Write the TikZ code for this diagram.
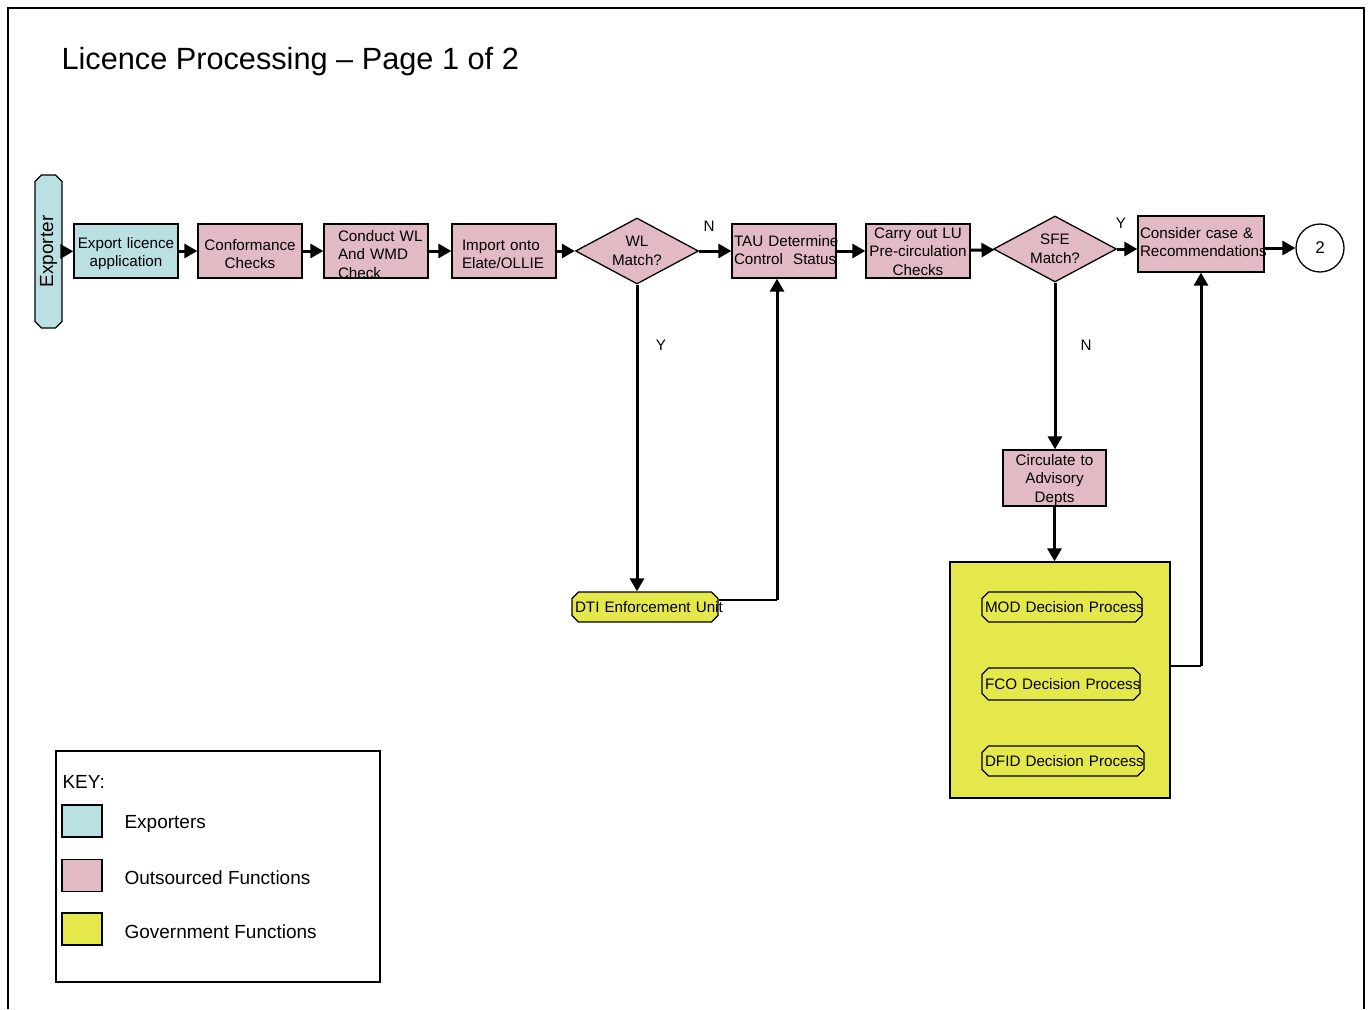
\documentclass[tikz,border=0pt]{standalone}
\usepackage{fontspec}
\setmainfont{Liberation Sans}
\usepackage{tikz}
\usetikzlibrary{shapes,arrows.meta}
\definecolor{exportblue}{RGB}{186,224,227}
\definecolor{outpink}{RGB}{226,186,196}
\definecolor{govyellow}{RGB}{228,232,74}

\begin{document}
\begin{tikzpicture}[x=1pt,y=-1pt,
  every node/.style={font=\fontsize{15.2}{18.5}\selectfont},
  box/.style={draw,line width=1.3pt,rectangle,minimum width=104pt,minimum height=54pt,inner xsep=2pt,inner ysep=0pt,text width=100pt,align=center},
  linepos/.style 2 args={text height=#1,text depth=#2},
  decision/.style={draw,line width=1.3pt,diamond,shape aspect=1.86,fill=outpink,minimum width=123pt,minimum height=66pt,inner sep=0pt,align=center},
  govproc/.style={draw,line width=1.3pt,chamfered rectangle,chamfered rectangle xsep=3pt,fill=govyellow,inner xsep=0pt,inner ysep=0pt,minimum height=30pt,align=left},
  swatch/.style={draw,line width=1.3pt,minimum width=40pt,minimum height=32pt},
  keytext/.style={anchor=west,font=\fontsize{19}{20}\selectfont},
  flow/.style={line width=3pt,-{Triangle[length=13pt,width=14pt]}},
  link/.style={line width=1.2pt}]
\useasboundingbox (0,0) rectangle (1370,1009);
\draw[line width=1.5pt] (8,1009) -- (8,8) -- (1364,8) -- (1364,1009);
\node[anchor=base west,font=\fontsize{30.7}{31}\selectfont] (title) at (58,69) {Licence Processing – Page 1 of 2};

\node[draw,line width=1.3pt,chamfered rectangle,chamfered rectangle xsep=3pt,fill=exportblue,minimum width=27pt,minimum height=153pt,inner sep=0pt] (exporter) at (48.5,251.5) {\rotatebox{90}{\fontsize{19}{19}\selectfont Exporter}};
\node[box,fill=exportblue,linepos={17.3pt}{22.7pt}] (apply) at (126,251) {\mbox{Export licence}\\application};
\node[box,fill=outpink,linepos={19.3pt}{20.7pt}] (conform) at (250,251) {Conformance\\Checks};
\node[box,fill=outpink,align=left,inner xsep=14pt,text width=76pt,linepos={10.3pt}{29.7pt}] (wlcheck) at (376,251) {\mbox{Conduct WL}\\\mbox{And WMD}\\Check};
\node[box,fill=outpink,align=left,inner xsep=10pt,text width=84pt,linepos={19.3pt}{20.7pt}] (import) at (504,251) {\mbox{Import onto}\\Elate/OLLIE};
\node[decision] (wlmatch) at (637,251) {WL\\Match?};
\node[box,fill=outpink,align=left,linepos={15.3pt}{24.7pt}] (tau) at (784,251) {\mbox{TAU Determine}\\\mbox{Control\ \ Status}};
\node[box,fill=outpink,linepos={7.3pt}{32.7pt}] (precirc) at (918,251) {\mbox{Carry out LU}\\\mbox{Pre-circulation}\\Checks};
\node[decision] (sfematch) at (1055,249) {SFE\\Match?};
\node[box,fill=outpink,align=left,minimum width=126pt,minimum height=56pt,text width=122pt,linepos={14.3pt}{25.7pt}] (consider) at (1201,244) {\mbox{Consider case \&}\\\mbox{Recommendations}};
\node[draw,line width=1.3pt,circle,minimum size=48pt,font=\fontsize{17}{17}\selectfont] (cont) at (1320,248) {2};
\node[box,fill=outpink,minimum width=103pt,minimum height=56pt,text width=99pt,linepos={7.3pt}{32.7pt}] (circulate) at (1054.5,478) {\mbox{Circulate to}\\Advisory\\Depts};

\node[govproc,minimum width=146pt,text width=140pt] (dti) at (645,607) {\mbox{DTI Enforcement Unit}};
\node[draw,line width=1.3pt,fill=govyellow,minimum width=220pt,minimum height=236pt] (govbox) at (1060,680) {};
\node[govproc,minimum width=160pt,text width=154pt] (mod) at (1062,607) {\mbox{MOD Decision Process}};
\node[govproc,minimum width=158pt,minimum height=32pt,text width=152pt] (fco) at (1061,684) {\mbox{FCO Decision Process}};
\node[govproc,minimum width=162pt,text width=156pt] (dfid) at (1063,761) {\mbox{DFID Decision Process}};

\coordinate (dtiturn) at (777,600);
\coordinate (govturn) at (1201,666);

\draw[flow] (exporter) -- (apply);
\draw[flow] (apply) -- (conform);
\draw[flow] (conform) -- (wlcheck);
\draw[flow] (wlcheck) -- (import);
\draw[flow] (import) -- (wlmatch);
\draw[flow] (wlmatch) -- (tau);
\node (wln) at (709,226) {N};
\draw[flow] (wlmatch.south) -- (wlmatch.south |- dti.north);
\node (wly) at (661,345) {Y};
\draw[link] (dti.east |- dtiturn) -- (dtiturn);
\draw[flow] (dtiturn) -- (dtiturn |- tau.south);
\draw[flow] (tau) -- (precirc);
\draw[flow] (precirc) -- (sfematch);
\draw[flow] (sfematch.east) -- (sfematch.east -| consider.west);
\node (sfey) at (1121,223) {Y};
\draw[flow] (sfematch.south) -- (sfematch.south |- circulate.north);
\node (sfen) at (1086,345) {N};
\draw[flow] (circulate) -- (circulate |- govbox.north);
\draw[link] (govbox.east |- govturn) -- (govturn);
\draw[flow] (govturn) -- (consider.south);
\draw[flow] (consider.east |- cont.west) -- (cont.west);

\node[draw,line width=1.3pt,minimum width=324pt,minimum height=231pt] (key) at (218,866.5) {};
\node[keytext] (keytitle) at (59,782) {KEY:};
\node[swatch,fill=exportblue] (kexp) at (82,821) {};
\node[swatch,fill=outpink] (kout) at (82,875.5) {};
\node[swatch,fill=govyellow] (kgov) at (82,929) {};
\node[keytext] at (121,824) {Exporters};
\node[keytext] at (121,878) {Outsourced Functions};
\node[keytext] at (121,932) {Government Functions};
\end{tikzpicture}
\end{document}
